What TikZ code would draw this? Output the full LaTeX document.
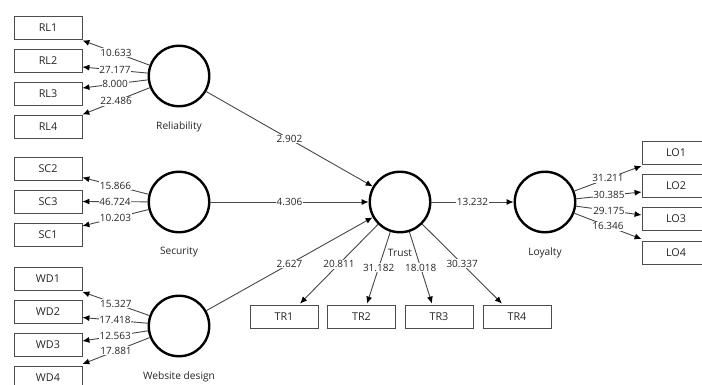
\documentclass[tikz,border=0pt]{standalone}
\usepackage{fontspec}
\setmainfont{Open Sans}
\usetikzlibrary{arrows.meta,calc}
\begin{document}
\begin{tikzpicture}[x=1pt,y=-1pt,
  lv/.style={circle, draw=black, line width=2.4pt, minimum size=60.5pt, inner sep=0pt},
  ind/.style={rectangle, draw=black!70, line width=0.8pt, minimum width=68pt, minimum height=23pt, inner sep=0pt, text=black!85, font=\fontsize{10.8}{12}\selectfont},
  conn/.style={draw=black!72, line width=0.9pt, -{Latex[length=7pt,width=6pt,color=black]}},
  wt/.style={fill=white, inner sep=0.8pt, text=black!85, font=\fontsize{10}{11}\selectfont},
  lvlab/.style={text=black!85, font=\fontsize{10.2}{12}\selectfont}]
\useasboundingbox (0,0) rectangle (702,385);
\fill[white] (0,0) rectangle (702,385);
% latent variables
\node[lv] (REL) at (179,76) {};
\node[lv] (SEC) at (179,202) {};
\node[lv] (WEB) at (179,326) {};
\node[lv] (TRU) at (400,202) {};
\node[lv] (LOY) at (545,202) {};
\node[lvlab] (RELl) at (179,127) {Reliability};
\node[lvlab] (SECl) at (179,252) {Security};
\node[lvlab] (WEBl) at (179,377) {Website design};
\node[lvlab] (TRUl) at (400,253) {Trust};
\node[lvlab] (LOYl) at (545,253) {Loyalty};
% indicators
\node[ind] (RL1) at (48,27.5) {RL1};
\node[ind] (RL2) at (48,60.5) {RL2};
\node[ind] (RL3) at (48,93.5) {RL3};
\node[ind] (RL4) at (48,126.5) {RL4};
\node[ind] (SC2) at (48,168.5) {SC2};
\node[ind] (SC3) at (48,201.5) {SC3};
\node[ind] (SC1) at (48,234.5) {SC1};
\node[ind] (WD1) at (48,279) {WD1};
\node[ind] (WD2) at (48,312) {WD2};
\node[ind] (WD3) at (48,345) {WD3};
\node[ind] (WD4) at (48,378) {WD4};
\node[ind] (TR1) at (284,316.5) {TR1};
\node[ind] (TR2) at (361.5,316.5) {TR2};
\node[ind] (TR3) at (439,316.5) {TR3};
\node[ind] (TR4) at (517,316.5) {TR4};
\node[ind] (LO1) at (676,153) {LO1};
\node[ind] (LO2) at (676,186) {LO2};
\node[ind] (LO3) at (676,219) {LO3};
\node[ind] (LO4) at (676,253) {LO4};
% outer loadings
\draw[conn] (REL) -- ([yshift=-1pt]RL1.south east) node[wt,midway] {10.633};
\draw[conn] (REL) -- ([yshift=-6.5pt]RL2.east) node[wt,midway] {27.177};
\draw[conn] (REL) -- ([yshift=5.5pt]RL3.east) node[wt,midway] {8.000};
\draw[conn] (REL) -- (RL4.north east) node[wt,midway] {22.486};
\draw[conn] (SEC) -- ([yshift=-9pt]SC2.east) node[wt,midway] {15.866};
\draw[conn] (SEC) -- (SC3.east) node[wt,midway] {46.724};
\draw[conn] (SEC) -- ([yshift=8.5pt]SC1.east) node[wt,midway] {10.203};
\draw[conn] (WEB) -- ([yshift=-1pt]WD1.south east) node[wt,midway] {15.327};
\draw[conn] (WEB) -- ([yshift=-5.5pt]WD2.east) node[wt,midway] {17.418};
\draw[conn] (WEB) -- ([yshift=4pt]WD3.east) node[wt,midway] {12.563};
\draw[conn] (WEB) -- ([yshift=2pt]WD4.north east) node[wt,midway] {17.881};
\draw[conn] (TRU) -- ([xshift=16pt,yshift=1pt]TR1.north) node[wt,midway] {20.811};
\draw[conn] (TRU) -- ([xshift=5.5pt,yshift=1pt]TR2.north) node[wt,midway] {31.182};
\draw[conn] (TRU) -- ([xshift=-7pt,yshift=1pt]TR3.north) node[wt,midway] {18.018};
\draw[conn] (TRU) -- ([xshift=-15pt,yshift=1pt]TR4.north) node[wt,midway] {30.337};
\draw[conn] (LOY) -- ([yshift=-1pt]LO1.south west) node[wt,midway] {31.211};
\draw[conn] (LOY) -- ([yshift=-6pt]LO2.west) node[wt,midway] {30.385};
\draw[conn] (LOY) -- ([yshift=4pt]LO3.west) node[wt,midway] {29.175};
\draw[conn] (LOY) -- ([yshift=2pt]LO4.north west) node[wt,midway] {16.346};
% structural paths
\draw[conn] (REL) -- (TRU) node[wt,midway] {2.902};
\draw[conn] (SEC) -- (TRU) node[wt,midway] {4.306};
\draw[conn] (WEB) -- (TRU) node[wt,midway] {2.627};
\draw[conn] (TRU) -- (LOY) node[wt,midway] {13.232};
\end{tikzpicture}
\end{document}
